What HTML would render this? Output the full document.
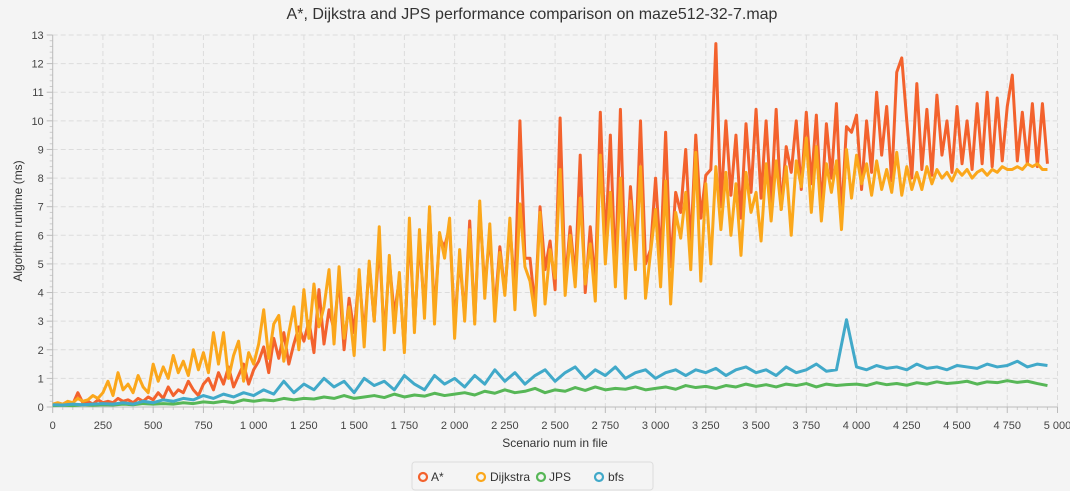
<!DOCTYPE html>
<html><head><meta charset="utf-8"><style>
html,body{margin:0;padding:0;background:#f4f4f4;}
svg{display:block;font-family:"Liberation Sans",sans-serif;}
</style></head><body>
<svg id="chart" width="1070" height="491">
<rect width="1070" height="491" fill="#f4f4f4"/>
<text x="532" y="19" text-anchor="middle" font-size="16" fill="#333">A*, Dijkstra and JPS performance comparison on maze512-32-7.map</text>
<text transform="translate(22,221) rotate(-90)" text-anchor="middle" font-size="12" fill="#333">Algorithm runtime (ms)</text>
<text x="555" y="447" text-anchor="middle" font-size="12" fill="#333">Scenario num in file</text>
<g id="grid"></g>
<g id="axes"></g>
<g id="series"></g>
<g>
<rect x="412" y="462" width="241" height="28" rx="3" fill="#f4f4f4" stroke="#ddd"/>
<g><circle cx="423" cy="477" r="4" fill="none" stroke="#f3622d" stroke-width="2.2"/><text x="431" y="481" font-size="12" fill="#333">A*</text></g>
<g><circle cx="481" cy="477" r="4" fill="none" stroke="#fba71b" stroke-width="2.2"/><text x="490" y="481" font-size="12" fill="#333">Dijkstra</text></g>
<g><circle cx="541" cy="477" r="4" fill="none" stroke="#57b757" stroke-width="2.2"/><text x="549" y="481" font-size="12" fill="#333">JPS</text></g>
<g><circle cx="599" cy="477" r="4" fill="none" stroke="#41a9c9" stroke-width="2.2"/><text x="608" y="481" font-size="12" fill="#333">bfs</text></g>
</g>
</svg>
<script>
const xTicks=[0,250,500,750,1000,1250,1500,1750,2000,2250,2500,2750,3000,3250,3500,3750,4000,4250,4500,4750,5000];
const yTicks=[0,1,2,3,4,5,6,7,8,9,10,11,12,13];
const stepAD=25;
const stepJB=50;
const astar=[0.1,0.12,0.1,0.15,0.1,0.5,0.15,0.2,0.1,0.25,0.15,
0.2,0.15,0.3,0.2,0.25,0.15,0.3,0.2,0.35,0.25,
0.5,0.3,0.7,0.4,0.6,0.5,0.9,0.6,0.4,0.8,
1.0,0.6,1.2,0.8,1.4,0.7,1.1,1.5,0.8,1.3,
1.6,2.1,1.2,2.4,1.7,2.6,1.5,2.2,2.8,2.3,
3.0,1.9,4.1,2.2,3.4,2.7,4.5,2.0,3.8,2.6,
4.6,2.5,5.0,3.0,5.8,2.4,5.1,3.2,4.5,2.0,
6.2,2.8,5.8,3.4,6.8,3.3,5.9,5.6,6.3,2.9,
5.2,3.2,6.5,3.0,6.9,4.2,6.0,3.4,5.6,4.0,
6.3,4.1,10.0,5.2,5.2,3.5,7.0,4.8,5.8,4.1,
10.1,4.3,6.3,4.5,8.8,4.0,6.3,4.3,10.3,5.6,
9.5,4.6,10.4,4.5,7.7,5.3,10.0,5.0,5.5,8.0,
5.2,9.6,4.9,7.5,6.8,9.0,5.6,9.5,6.6,8.1,
8.3,12.7,7.0,10.0,7.4,9.5,6.6,9.9,7.5,10.4,
7.3,10.0,7.1,10.4,6.9,9.1,8.2,10.0,7.6,10.3,
7.8,10.2,6.9,9.9,8.0,10.6,6.6,9.8,9.6,10.2,
7.6,10.0,8.2,11.0,8.8,10.5,7.9,11.7,12.2,10.0,
8.0,11.3,8.3,10.4,8.1,10.9,8.8,10.0,8.2,10.5,
8.5,10.0,8.3,10.6,8.5,11.0,8.4,10.8,8.6,10.5,
11.6,8.6,10.3,8.5,10.6,8.4,10.6,8.5];
const dijkstra=[0.1,0.15,0.1,0.2,0.15,0.3,0.2,0.25,0.4,0.3,0.5,
0.9,0.4,1.2,0.6,0.8,0.5,1.1,0.7,0.5,1.5,
0.9,1.4,1.0,1.8,1.2,1.6,1.1,2.0,1.3,1.9,
1.2,2.6,1.5,2.6,1.0,1.8,2.3,0.9,1.9,1.5,
2.2,3.4,1.7,2.9,3.2,1.6,2.6,3.5,2.0,4.1,
2.4,4.3,2.8,3.5,4.8,2.2,4.9,2.4,3.5,1.8,
4.8,2.1,5.1,3.0,6.3,2.0,5.3,2.6,4.7,1.9,
6.6,2.6,6.2,3.1,7.0,2.9,6.1,5.2,6.6,2.4,
5.5,3.0,6.2,2.9,7.2,3.8,6.4,3.0,5.4,3.9,
6.6,3.4,7.1,4.9,4.4,3.2,6.8,3.6,5.5,4.5,
8.3,3.9,6.0,4.2,7.3,4.3,5.7,3.7,8.8,5.0,
7.5,4.2,8.0,3.8,7.2,4.8,8.4,3.8,5.4,6.9,
4.2,7.9,3.6,6.8,5.9,7.5,4.8,8.9,4.4,7.8,
5.0,8.4,6.2,8.2,6.0,7.8,5.3,8.2,6.8,7.5,
5.8,8.5,6.5,8.6,6.9,8.4,6.0,8.6,7.7,9.4,
6.8,9.1,6.5,8.5,7.5,8.6,6.2,9.0,7.3,8.8,
7.8,8.5,7.4,8.6,7.6,8.3,7.5,8.9,7.4,8.4,
7.6,8.2,7.6,8.4,7.8,8.3,8.0,8.2,7.9,8.3,
8.1,8.3,8.0,8.2,8.3,8.1,8.3,8.2,8.4,8.3,
8.3,8.4,8.3,8.5,8.4,8.5,8.3,8.3];
const jps=[0.05,0.06,0.05,0.08,0.06,0.08,0.07,0.1,0.08,0.12,0.1,0.12,0.1,0.15,0.12,0.18,0.15,0.2,0.15,0.25,
0.2,0.25,0.22,0.3,0.25,0.3,0.28,0.35,0.3,0.4,0.3,0.35,0.4,0.33,0.45,0.35,0.42,0.38,0.48,0.4,
0.45,0.5,0.42,0.55,0.48,0.6,0.5,0.55,0.65,0.5,0.6,0.55,0.68,0.58,0.7,0.6,0.65,0.62,0.7,0.6,
0.65,0.7,0.62,0.75,0.68,0.72,0.65,0.75,0.7,0.8,0.72,0.78,0.7,0.8,0.75,0.82,0.7,0.8,0.75,0.78,
0.8,0.75,0.85,0.78,0.82,0.76,0.85,0.8,0.88,0.82,0.85,0.9,0.8,0.88,0.85,0.92,0.86,0.9,0.82,0.75];
const bfs=[0.08,0.07,0.1,0.08,0.1,0.12,0.1,0.15,0.1,0.2,0.15,0.25,0.2,0.3,0.25,0.4,0.3,0.45,0.35,0.5,
0.4,0.6,0.45,0.9,0.5,0.8,0.6,1.0,0.7,0.9,0.5,1.0,0.75,0.9,0.6,1.1,0.8,0.6,1.1,0.8,
1.0,0.7,1.1,0.8,1.3,0.9,1.2,0.8,1.1,1.3,0.9,1.2,1.4,1.0,1.3,1.1,1.4,1.0,1.2,1.3,
1.0,1.2,1.3,1.1,1.3,1.2,1.35,1.1,1.3,1.4,1.2,1.3,1.1,1.4,1.2,1.3,1.5,1.25,1.3,3.05,
1.4,1.3,1.45,1.35,1.4,1.3,1.5,1.35,1.4,1.3,1.45,1.4,1.35,1.5,1.4,1.45,1.6,1.4,1.5,1.45];

const NS='http://www.w3.org/2000/svg';
const X0=52.7,X1=1057.5,Y0=407,Y1=35,XMAX=5000,YMAX=13;
function sx(v){return X0+(X1-X0)*v/XMAX;}
function sy(v){return Y0-(Y0-Y1)*v/YMAX;}
function mk(tag,attrs,parent){const e=document.createElementNS(NS,tag);for(const k in attrs)e.setAttribute(k,attrs[k]);parent.appendChild(e);return e;}
const grid=document.getElementById('grid'),axes=document.getElementById('axes'),series=document.getElementById('series');
xTicks.forEach(t=>{
  if(t>0){const g=mk('line',{x1:sx(t),x2:sx(t),y1:Y1,y2:Y0,stroke:'#dcdcdc','stroke-dasharray':'5 3'},grid);
  
  }
  const tk=mk('line',{x1:sx(t),x2:sx(t),y1:Y0,y2:Y0+6,stroke:'#bbb'},axes);
  
  
  const lb=mk('text',{x:sx(t),y:Y0+22,'text-anchor':'middle','font-size':'11',fill:'#444'},axes);
  lb.textContent=t>=1000?String(t).replace(/(\d)(\d{3})$/,'$1 $2'):String(t);
  
  
});
for(let m=0;m<=XMAX;m+=50){if(m%250===0)continue;mk('line',{x1:sx(m),x2:sx(m),y1:Y0,y2:Y0+3,stroke:'#ccc'},axes);}
yTicks.forEach(t=>{
  if(t>0){const g=mk('line',{x1:X0,x2:X1,y1:sy(t),y2:sy(t),stroke:'#dcdcdc','stroke-dasharray':'5 3'},grid);
  
  }
  const tk=mk('line',{x1:X0-6,x2:X0,y1:sy(t),y2:sy(t),stroke:'#bbb'},axes);
  
  
  const lb=mk('text',{x:X0-9,y:sy(t)+4,'text-anchor':'end','font-size':'11',fill:'#444'},axes);
  lb.textContent=String(t);
  
  
});
for(let m=0;m<YMAX;m+=0.2){if(Math.abs(m-Math.round(m))<1e-6)continue;mk('line',{x1:X0-3,x2:X0,y1:sy(m),y2:sy(m),stroke:'#ccc'},axes);}
mk('line',{x1:X0,x2:X0,y1:Y1,y2:Y0,stroke:'#bbb'},axes);
mk('line',{x1:X0,x2:X1,y1:Y0,y2:Y0,stroke:'#bbb'},axes);
function drawLine(arr,step,color,name){
  const d=arr.map((v,i)=>(i?'L':'M')+sx(i*step).toFixed(2)+','+sy(v).toFixed(2)).join('');
  const p=mk('path',{d:d,fill:'none',stroke:color,'stroke-width':'3','stroke-linejoin':'round'},series);
  
  
}
drawLine(astar,stepAD,'#f3622d','astar-line');
drawLine(dijkstra,stepAD,'#fba71b','dijkstra-line');
drawLine(jps,stepJB,'#57b757','jps-line');
drawLine(bfs,stepJB,'#41a9c9','bfs-line');
</script>
</body></html>
